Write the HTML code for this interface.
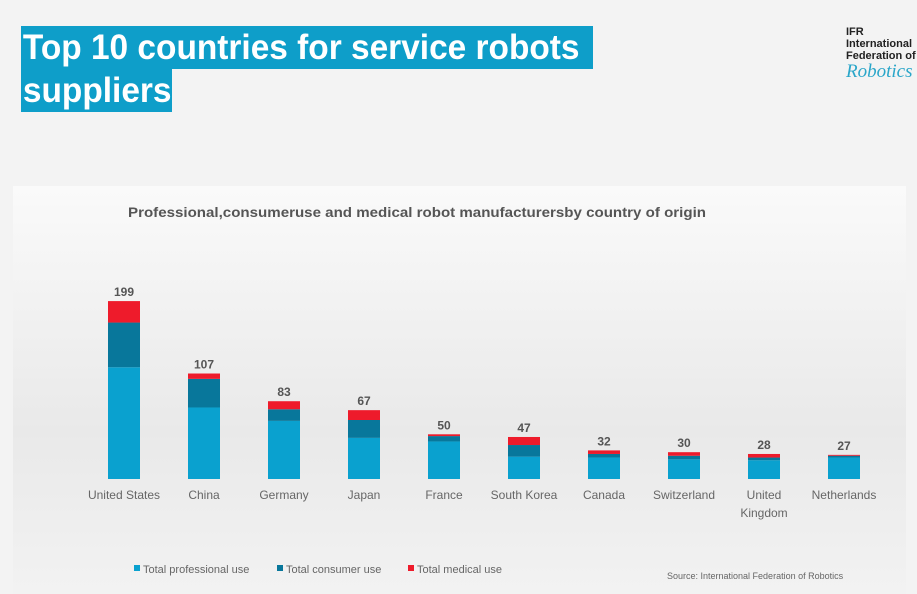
<!DOCTYPE html>
<html><head><meta charset="utf-8"><style>
body{margin:0;width:917px;height:594px;overflow:hidden;background:#f3f3f3;font-family:"Liberation Sans",sans-serif;position:relative}
.t{position:absolute;left:21px;background:#0e9ec9;color:#fff;font-weight:bold;font-size:35px;line-height:43px;overflow:hidden}
.t span{display:inline-block;transform:scaleX(0.955);transform-origin:left;white-space:nowrap;padding-left:2px}
#panel{position:absolute;left:13px;top:186px;width:893px;height:408px;background:linear-gradient(#fafafa,#e9e9e9 60%,#f2f2f2)}
</style></head><body>
<div class="t" style="top:26px;width:572px"><span>Top 10 countries for service robots</span></div>
<div class="t" style="top:69px;width:151px"><span>suppliers</span></div>
<div style="position:absolute;left:846px;top:26px;font-size:11px;font-weight:bold;line-height:12px;color:#222">IFR<br>International<br>Federation of<br><span style="font-family:'Liberation Serif',serif;font-style:italic;font-weight:normal;color:#2aa6c9;font-size:19px;line-height:20px">Robotics</span></div>
<div id="panel"></div>
<svg id="c" width="917" height="594" style="position:absolute;left:0;top:0"></svg>
<script>
const categories=["United States","China","Germany","Japan","France","South Korea","Canada","Switzerland","United Kingdom","Netherlands"];
const professional=[125,80,65,46,42,25,24,22,21,24];
const consumer=[50,32,13,20,6,13,4,4,3,2];
const medical=[24,6,9,11,2,9,4,4,4,1];
const totals=[199,107,83,67,50,47,32,30,28,27];
const svg=document.getElementById('c');const NS='http://www.w3.org/2000/svg';
const base=479,k=0.894,x0=124,step=80,bw=32;
const X=i=>x0+i*step, H=v=>v*k;
function el(t,a,txt){const e=document.createElementNS(NS,t);for(const n in a)e.setAttribute(n,a[n]);if(txt!=null)e.textContent=txt;svg.appendChild(e);return e;}
const st=el('text',{x:128,y:217,'font-size':14,'font-weight':'bold',fill:'#555',textLength:578,lengthAdjust:'spacingAndGlyphs'},'Professional,consumeruse and medical robot manufacturersby country of origin');


const series=[[professional,'#0aa1cf','professional'],[consumer,'#08779b','consumer'],[medical,'#ee1b2b','medical']];
categories.forEach((c,i)=>{
  let y=base;
  series.forEach(([arr,col,nm])=>{const h=H(arr[i]);y-=h;
    const r=el('rect',{x:X(i)-bw/2,y:y,width:bw,height:h,fill:col});
    
    
  });
  const tv=el('text',{x:X(i),y:y-5,'text-anchor':'middle','font-size':12,'font-weight':'bold',fill:'#555'},totals[i]);
  
  
  const parts=c==="United Kingdom"?["United","Kingdom"]:[c];
  parts.forEach((p,j)=>{const l=el('text',{x:X(i),y:499+j*18,'text-anchor':'middle','font-size':12,fill:'#666'},p);
    
    });
});
const leg=[['Total professional use','#0aa1cf',134],['Total consumer use','#08779b',277],['Total medical use','#ee1b2b',408]];
leg.forEach(([t,c,x])=>{
  const s=el('rect',{x:x,y:565,width:6,height:6,fill:c});
  
  
  const l=el('text',{x:x+9,y:573,'font-size':11,fill:'#666'},t);
  
  
});
const src=el('text',{x:667,y:579,'font-size':9,fill:'#666'},'Source: International Federation of Robotics');


</script>
</body></html>
